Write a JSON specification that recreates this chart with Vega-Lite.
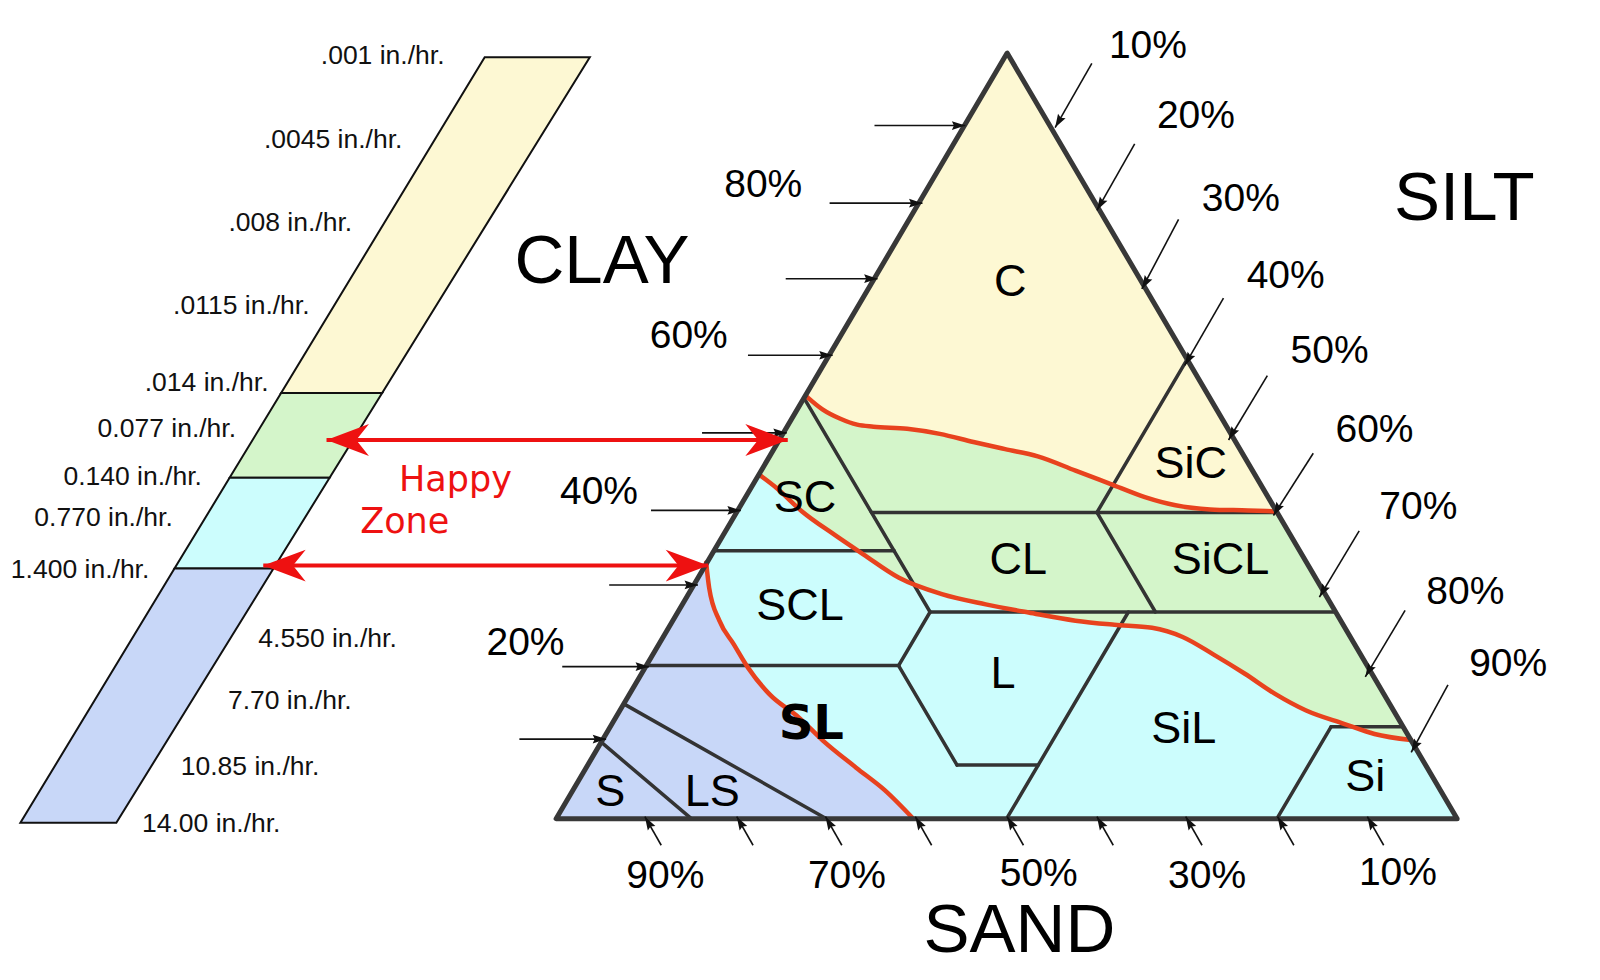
{
"$schema":"https://vega.github.io/schema/vega-lite/v6.json",
"width":1600,"height":980,
"autosize":{"type":"fit","contains":"padding"},
"padding":0,
"background":"white",
"config":{"view":{"stroke":null}},
"datasets":{
"bar":[
{"p":"b1","zone":"very slow","i":0,"x":475,"y":56},{"p":"b1","zone":"very slow","i":1,"x":578,"y":56},{"p":"b1","zone":"very slow","i":2,"x":374.5,"y":385},{"p":"b1","zone":"very slow","i":3,"x":275.5,"y":385},
{"p":"b2","zone":"slow","i":0,"x":275.5,"y":385},{"p":"b2","zone":"slow","i":1,"x":374.5,"y":385},{"p":"b2","zone":"slow","i":2,"x":323,"y":468},{"p":"b2","zone":"slow","i":3,"x":225,"y":468},
{"p":"b3","zone":"moderate","i":0,"x":225,"y":468},{"p":"b3","zone":"moderate","i":1,"x":323,"y":468},{"p":"b3","zone":"moderate","i":2,"x":268,"y":557},{"p":"b3","zone":"moderate","i":3,"x":171,"y":557},
{"p":"b4","zone":"rapid","i":0,"x":171,"y":557},{"p":"b4","zone":"rapid","i":1,"x":268,"y":557},{"p":"b4","zone":"rapid","i":2,"x":114,"y":806},{"p":"b4","zone":"rapid","i":3,"x":20,"y":806}
],
"tri":[
{"p":"t","zone":"moderate","i":0,"x":987,"y":52},{"p":"t","zone":"moderate","i":1,"x":545,"y":802},{"p":"t","zone":"moderate","i":2,"x":1428,"y":802}
],
"zones":[
{"p":"y","zone":"very slow","i":0,"x":987,"y":52},
{"p":"y","zone":"very slow","i":1,"x":790,"y":388},{"p":"y","zone":"very slow","i":2,"x":806,"y":401},{"p":"y","zone":"very slow","i":3,"x":823,"y":410},{"p":"y","zone":"very slow","i":4,"x":840,"y":416},{"p":"y","zone":"very slow","i":5,"x":856,"y":418},{"p":"y","zone":"very slow","i":6,"x":889,"y":420},{"p":"y","zone":"very slow","i":7,"x":921,"y":425},{"p":"y","zone":"very slow","i":8,"x":954,"y":433},{"p":"y","zone":"very slow","i":9,"x":985,"y":440},{"p":"y","zone":"very slow","i":10,"x":1017,"y":447},{"p":"y","zone":"very slow","i":11,"x":1054,"y":461},{"p":"y","zone":"very slow","i":12,"x":1088,"y":474},{"p":"y","zone":"very slow","i":13,"x":1122,"y":487},{"p":"y","zone":"very slow","i":14,"x":1152,"y":495},{"p":"y","zone":"very slow","i":15,"x":1186,"y":499},{"p":"y","zone":"very slow","i":16,"x":1223,"y":500},{"p":"y","zone":"very slow","i":17,"x":1250,"y":501},
{"p":"g","zone":"slow","i":0,"x":790,"y":388},{"p":"g","zone":"slow","i":1,"x":806,"y":401},{"p":"g","zone":"slow","i":2,"x":823,"y":410},{"p":"g","zone":"slow","i":3,"x":840,"y":416},{"p":"g","zone":"slow","i":4,"x":856,"y":418},{"p":"g","zone":"slow","i":5,"x":889,"y":420},{"p":"g","zone":"slow","i":6,"x":921,"y":425},{"p":"g","zone":"slow","i":7,"x":954,"y":433},{"p":"g","zone":"slow","i":8,"x":985,"y":440},{"p":"g","zone":"slow","i":9,"x":1017,"y":447},{"p":"g","zone":"slow","i":10,"x":1054,"y":461},{"p":"g","zone":"slow","i":11,"x":1088,"y":474},{"p":"g","zone":"slow","i":12,"x":1122,"y":487},{"p":"g","zone":"slow","i":13,"x":1152,"y":495},{"p":"g","zone":"slow","i":14,"x":1186,"y":499},{"p":"g","zone":"slow","i":15,"x":1223,"y":500},{"p":"g","zone":"slow","i":16,"x":1250,"y":501},
{"p":"g","zone":"slow","i":17,"x":1383,"y":725},{"p":"g","zone":"slow","i":18,"x":1347,"y":719},{"p":"g","zone":"slow","i":19,"x":1317,"y":709},{"p":"g","zone":"slow","i":20,"x":1280,"y":696},{"p":"g","zone":"slow","i":21,"x":1250,"y":680},{"p":"g","zone":"slow","i":22,"x":1220,"y":660},{"p":"g","zone":"slow","i":23,"x":1189,"y":641},{"p":"g","zone":"slow","i":24,"x":1159,"y":624},{"p":"g","zone":"slow","i":25,"x":1129,"y":615},{"p":"g","zone":"slow","i":26,"x":1092,"y":612},{"p":"g","zone":"slow","i":27,"x":1054,"y":608},{"p":"g","zone":"slow","i":28,"x":1008,"y":600},{"p":"g","zone":"slow","i":29,"x":966,"y":592},{"p":"g","zone":"slow","i":30,"x":923,"y":582},{"p":"g","zone":"slow","i":31,"x":881,"y":566},{"p":"g","zone":"slow","i":32,"x":846,"y":543},{"p":"g","zone":"slow","i":33,"x":818,"y":524},{"p":"g","zone":"slow","i":34,"x":786,"y":501},{"p":"g","zone":"slow","i":35,"x":761,"y":478},{"p":"g","zone":"slow","i":36,"x":744,"y":465},
{"p":"b","zone":"rapid","i":0,"x":692,"y":551},{"p":"b","zone":"rapid","i":1,"x":695,"y":576},{"p":"b","zone":"rapid","i":2,"x":705,"y":608},{"p":"b","zone":"rapid","i":3,"x":719,"y":631},{"p":"b","zone":"rapid","i":4,"x":733,"y":654},{"p":"b","zone":"rapid","i":5,"x":754,"y":680},{"p":"b","zone":"rapid","i":6,"x":783,"y":703},{"p":"b","zone":"rapid","i":7,"x":807,"y":726},{"p":"b","zone":"rapid","i":8,"x":839,"y":752},{"p":"b","zone":"rapid","i":9,"x":867,"y":774},{"p":"b","zone":"rapid","i":10,"x":895,"y":802},{"p":"b","zone":"rapid","i":11,"x":545,"y":802}
],
"curves":[
{"c":"c1","i":0,"x":790,"y":388},{"c":"c1","i":1,"x":806,"y":401},{"c":"c1","i":2,"x":823,"y":410},{"c":"c1","i":3,"x":840,"y":416},{"c":"c1","i":4,"x":856,"y":418},{"c":"c1","i":5,"x":889,"y":420},{"c":"c1","i":6,"x":921,"y":425},{"c":"c1","i":7,"x":954,"y":433},{"c":"c1","i":8,"x":985,"y":440},{"c":"c1","i":9,"x":1017,"y":447},{"c":"c1","i":10,"x":1054,"y":461},{"c":"c1","i":11,"x":1088,"y":474},{"c":"c1","i":12,"x":1122,"y":487},{"c":"c1","i":13,"x":1152,"y":495},{"c":"c1","i":14,"x":1186,"y":499},{"c":"c1","i":15,"x":1223,"y":500},{"c":"c1","i":16,"x":1250,"y":501},
{"c":"c2","i":0,"x":744,"y":465},{"c":"c2","i":1,"x":761,"y":478},{"c":"c2","i":2,"x":786,"y":501},{"c":"c2","i":3,"x":818,"y":524},{"c":"c2","i":4,"x":846,"y":543},{"c":"c2","i":5,"x":881,"y":566},{"c":"c2","i":6,"x":923,"y":582},{"c":"c2","i":7,"x":966,"y":592},{"c":"c2","i":8,"x":1008,"y":600},{"c":"c2","i":9,"x":1054,"y":608},{"c":"c2","i":10,"x":1092,"y":612},{"c":"c2","i":11,"x":1129,"y":615},{"c":"c2","i":12,"x":1159,"y":624},{"c":"c2","i":13,"x":1189,"y":641},{"c":"c2","i":14,"x":1220,"y":660},{"c":"c2","i":15,"x":1250,"y":680},{"c":"c2","i":16,"x":1280,"y":696},{"c":"c2","i":17,"x":1317,"y":709},{"c":"c2","i":18,"x":1347,"y":719},{"c":"c2","i":19,"x":1383,"y":725},
{"c":"c3","i":0,"x":692,"y":551},{"c":"c3","i":1,"x":695,"y":576},{"c":"c3","i":2,"x":705,"y":608},{"c":"c3","i":3,"x":719,"y":631},{"c":"c3","i":4,"x":733,"y":654},{"c":"c3","i":5,"x":754,"y":680},{"c":"c3","i":6,"x":783,"y":703},{"c":"c3","i":7,"x":807,"y":726},{"c":"c3","i":8,"x":839,"y":752},{"c":"c3","i":9,"x":867,"y":774},{"c":"c3","i":10,"x":895,"y":802}
],
"bounds":[
{"x":788,"y":390,"x2":911.5,"y2":599.5},
{"x":854,"y":502,"x2":1251.6,"y2":502},
{"x":1163.4,"y":352,"x2":1075,"y2":502},
{"x":1075,"y":502,"x2":1132.3,"y2":599.5},
{"x":911.5,"y":599.5,"x2":1308.9,"y2":599.5},
{"x":699.7,"y":539.5,"x2":876.3,"y2":539.5},
{"x":911.5,"y":599.5,"x2":880.6,"y2":652},
{"x":633.4,"y":652,"x2":880.6,"y2":652},
{"x":880.6,"y":652,"x2":937.9,"y2":749.5},
{"x":937.9,"y":749.5,"x2":1017.4,"y2":749.5},
{"x":1105.8,"y":599.5,"x2":986.5,"y2":802},
{"x":1251.4,"y":802,"x2":1304.4,"y2":712},
{"x":1304.4,"y":712,"x2":1375,"y2":712},
{"x":611.3,"y":689.5,"x2":809.9,"y2":802},
{"x":589.2,"y":727,"x2":677.5,"y2":802}
],
"arrows":[
{"side":"left","x":946,"y":123,"x2":857,"y2":123},
{"side":"left","x":904,"y":199,"x2":813,"y2":199},
{"side":"left","x":860,"y":273,"x2":770,"y2":273},
{"side":"left","x":816,"y":348,"x2":733,"y2":348},
{"side":"left","x":771,"y":424,"x2":688,"y2":424},
{"side":"left","x":726,"y":500,"x2":638,"y2":500},
{"side":"left","x":684,"y":573,"x2":597,"y2":573},
{"side":"left","x":636,"y":653,"x2":551,"y2":653},
{"side":"left","x":594,"y":724,"x2":509,"y2":724},
{"side":"right","x":1034,"y":125,"x2":1070,"y2":62},
{"side":"right","x":1075,"y":206,"x2":1112,"y2":141},
{"side":"right","x":1119,"y":283,"x2":1155,"y2":215},
{"side":"right","x":1161,"y":358,"x2":1199,"y2":292},
{"side":"right","x":1204,"y":431,"x2":1242,"y2":368},
{"side":"right","x":1248,"y":505,"x2":1287,"y2":444},
{"side":"right","x":1293,"y":585,"x2":1332,"y2":520},
{"side":"right","x":1338,"y":663,"x2":1377,"y2":598},
{"side":"right","x":1383,"y":737,"x2":1419,"y2":671},
{"side":"bottom","x":632,"y":800,"x2":648,"y2":828},
{"side":"bottom","x":722,"y":800,"x2":738,"y2":828},
{"side":"bottom","x":809,"y":800,"x2":825,"y2":828},
{"side":"bottom","x":897,"y":800,"x2":913,"y2":828},
{"side":"bottom","x":987,"y":800,"x2":1003,"y2":828},
{"side":"bottom","x":1075,"y":800,"x2":1091,"y2":828},
{"side":"bottom","x":1162,"y":800,"x2":1178,"y2":828},
{"side":"bottom","x":1252,"y":800,"x2":1268,"y2":828},
{"side":"bottom","x":1340,"y":800,"x2":1356,"y2":828}
],
"redArrows":[
{"x":320,"y":431,"x2":772,"y2":431},
{"x":258,"y":554,"x2":694,"y2":554}
],
"redHeads":[
{"end":"left","x":320,"y":431},{"end":"right","x":772,"y":431},
{"end":"left","x":258,"y":554},{"end":"right","x":694,"y":554}
],
"barLabels":[
{"t":".001 in./hr.","x":375,"y":55},
{"t":".0045 in./hr.","x":326.5,"y":137},
{"t":".008 in./hr.","x":284.5,"y":218},
{"t":".0115 in./hr.","x":236.5,"y":300},
{"t":".014 in./hr.","x":202.5,"y":375},
{"t":"0.077 in./hr.","x":163.5,"y":420},
{"t":"0.140 in./hr.","x":130,"y":467},
{"t":"0.770 in./hr.","x":101.5,"y":507},
{"t":"1.400 in./hr.","x":78.5,"y":558},
{"t":"4.550 in./hr.","x":321,"y":626},
{"t":"7.70 in./hr.","x":284,"y":687},
{"t":"10.85 in./hr.","x":245,"y":751},
{"t":"14.00 in./hr.","x":207,"y":807}
],
"pctLabels":[
{"t":"80%","x":748,"y":181},{"t":"60%","x":675,"y":329},{"t":"40%","x":587,"y":482},{"t":"20%","x":515,"y":630},
{"t":"10%","x":1125,"y":45},{"t":"20%","x":1172,"y":114},{"t":"30%","x":1216,"y":195},{"t":"40%","x":1260,"y":270},{"t":"50%","x":1303,"y":344},{"t":"60%","x":1347,"y":421},{"t":"70%","x":1390,"y":497},{"t":"80%","x":1436,"y":580},{"t":"90%","x":1478,"y":650},
{"t":"90%","x":652,"y":858},{"t":"70%","x":830,"y":858},{"t":"50%","x":1018,"y":856},{"t":"30%","x":1183,"y":858},{"t":"10%","x":1370,"y":855}
],
"bigLabels":[
{"t":"CLAY","x":590,"y":257},{"t":"SILT","x":1435,"y":195},{"t":"SAND","x":999,"y":912}
],
"regionLabels":[
{"t":"C","x":990,"y":276},{"t":"SiC","x":1167,"y":455},{"t":"SC","x":789,"y":488},{"t":"CL","x":998,"y":549},{"t":"SiCL","x":1196,"y":549},{"t":"SCL","x":784,"y":594},{"t":"L","x":983,"y":660},{"t":"SiL","x":1160,"y":714},{"t":"S","x":598,"y":776},{"t":"LS","x":698,"y":776},{"t":"Si","x":1338,"y":761}
],
"boldLabels":[{"t":"SL","x":795,"y":710}],
"happy":[{"t":"Happy","x":391,"y":481},{"t":"Zone","x":353,"y":522}]
},
"encoding":{
"x":{"field":"x","type":"quantitative","scale":{"domain":[0,1568],"nice":false,"zero":false},"axis":null},
"y":{"field":"y","type":"quantitative","scale":{"domain":[0,960],"nice":false,"zero":false,"reverse":true},"axis":null}
},
"layer":[
{"data":{"name":"bar"},"mark":{"type":"line","interpolate":"linear-closed","stroke":"#111111","strokeWidth":2},
 "encoding":{"order":{"field":"i","type":"quantitative"},"detail":{"field":"p"},
 "fill":{"field":"zone","type":"nominal","scale":{"domain":["very slow","slow","moderate","rapid"],"range":["#FDF8D3","#D4F5CA","#CCFDFD","#C8D7F8"]},"legend":null}}},
{"data":{"name":"tri"},"mark":{"type":"line","interpolate":"linear-closed","strokeWidth":0},
 "encoding":{"order":{"field":"i","type":"quantitative"},"detail":{"field":"p"},"fill":{"field":"zone","type":"nominal","legend":null}}},
{"data":{"name":"zones"},"mark":{"type":"line","interpolate":"linear-closed","strokeWidth":0},
 "encoding":{"order":{"field":"i","type":"quantitative"},"detail":{"field":"p"},"fill":{"field":"zone","type":"nominal","legend":null}}},
{"data":{"name":"bounds"},"mark":{"type":"rule","stroke":"#333333","strokeWidth":3.5,"strokeCap":"round"},
 "encoding":{"x2":{"field":"x2"},"y2":{"field":"y2"}}},
{"data":{"name":"curves"},"mark":{"type":"line","interpolate":"monotone","stroke":"#E8421E","strokeWidth":4.5,"strokeCap":"round"},
 "encoding":{"order":{"field":"i","type":"quantitative"},"detail":{"field":"c"}}},
{"data":{"name":"tri"},"mark":{"type":"line","interpolate":"linear-closed","stroke":"#383838","strokeWidth":5,"strokeJoin":"round"},
 "encoding":{"order":{"field":"i","type":"quantitative"}}},
{"data":{"name":"arrows"},"mark":{"type":"rule","stroke":"#111111","strokeWidth":1.6},
 "encoding":{"x2":{"field":"x2"},"y2":{"field":"y2"}}},
{"data":{"name":"arrows"},"transform":[{"filter":"datum.side === 'left'"}],
 "mark":{"type":"point","shape":"M0,0L0.65,2L0,1.7L-0.65,2Z","angle":90,"size":180,"filled":true,"color":"#111111","opacity":1,"strokeWidth":0}},
{"data":{"name":"arrows"},"transform":[{"filter":"datum.side === 'right'"}],
 "mark":{"type":"point","shape":"M0,0L0.65,2L0,1.7L-0.65,2Z","angle":210,"size":180,"filled":true,"color":"#111111","opacity":1,"strokeWidth":0}},
{"data":{"name":"arrows"},"transform":[{"filter":"datum.side === 'bottom'"}],
 "mark":{"type":"point","shape":"M0,0L0.65,2L0,1.7L-0.65,2Z","angle":330,"size":180,"filled":true,"color":"#111111","opacity":1,"strokeWidth":0}},
{"data":{"name":"redArrows"},"mark":{"type":"rule","stroke":"#EE1111","strokeWidth":4},
 "encoding":{"x2":{"field":"x2"},"y2":{"field":"y2"}}},
{"data":{"name":"redHeads"},"transform":[{"filter":"datum.end === 'left'"}],
 "mark":{"type":"point","shape":"M0,0L2,-0.75L1.4,0L2,0.75Z","size":1800,"filled":true,"color":"#EE1111","opacity":1,"strokeWidth":0}},
{"data":{"name":"redHeads"},"transform":[{"filter":"datum.end === 'right'"}],
 "mark":{"type":"point","shape":"M0,0L2,-0.75L1.4,0L2,0.75Z","angle":180,"size":1800,"filled":true,"color":"#EE1111","opacity":1,"strokeWidth":0}},
{"data":{"name":"barLabels"},"mark":{"type":"text","font":"Liberation Sans","fontSize":26.5,"align":"center","baseline":"middle","color":"#111111"},
 "encoding":{"text":{"field":"t"}}},
{"data":{"name":"pctLabels"},"mark":{"type":"text","font":"Liberation Sans","fontSize":39,"align":"center","baseline":"middle","color":"#000000"},
 "encoding":{"text":{"field":"t"}}},
{"data":{"name":"bigLabels"},"mark":{"type":"text","font":"Liberation Sans","fontSize":69,"align":"center","baseline":"middle","color":"#000000"},
 "encoding":{"text":{"field":"t"}}},
{"data":{"name":"regionLabels"},"mark":{"type":"text","font":"Liberation Sans","fontSize":45,"align":"center","baseline":"middle","color":"#000000"},
 "encoding":{"text":{"field":"t"}}},
{"data":{"name":"boldLabels"},"mark":{"type":"text","font":"DejaVu Sans","fontWeight":"bold","fontSize":48,"align":"center","baseline":"middle","color":"#000000"},
 "encoding":{"text":{"field":"t"}}},
{"data":{"name":"happy"},"mark":{"type":"text","font":"DejaVu Sans","fontSize":35,"align":"left","baseline":"alphabetic","color":"#EE1111"},
 "encoding":{"text":{"field":"t"}}}
]
}
